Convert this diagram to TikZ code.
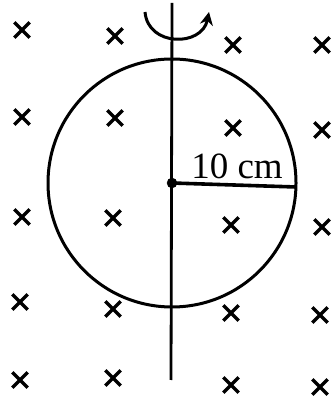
\documentclass[tikz,border=0pt]{standalone}
\usepackage{fontspec}
\setmainfont{Liberation Serif}
\usetikzlibrary{shapes.misc,arrows.meta,positioning}
\tikzset{
  field/.style={
    shape = cross out,
    draw,
    line width = 3.4pt,
    minimum size = 12pt,
    inner sep = 0pt
  },
  centre/.style={
    shape = circle,
    draw,
    fill,
    inner sep = 0pt,
    minimum size = 10pt
  },
  every picture/.style = {
    x = 1pt, y = 1pt,
    font = \fontsize{37}{40}\selectfont
  }
}

\begin{document}
\begin{tikzpicture}
        \useasboundingbox (0,0) rectangle (333,403);
        % magnetic field into the page
        \foreach \px/\py [count=\i] in {22/373,115/367,233/358,322/358,
                                       22/286,115/285,233/275,322/273,
                                       22/186,113/185,231/178,322/176,
                                       20/101,113/94,231/90,320/88,
                                       20/23,113/25,231/18,320/16}
          \node[field] (x\i) at (\px,\py) {};
        % ring and axis
        \node[centre] (O) at (172,220) {};
        \draw[line width=3pt] (O) circle (124);
        \coordinate (axtop) at (172,400);
        \coordinate (axbot) at (171,23);
        \draw[line width=2.8pt] (axtop)--(axbot);
        \coordinate (rim) at (296,216);
        \draw[line width=3.6pt] (O.center)--(rim)
          node[midway,above=1pt,xshift=3pt] (r) {10 cm};
        % sense of rotation
        \coordinate (rotA) at (145,391);
        \coordinate (rotB) at (209,391);
        \draw[line width=3pt,-{Stealth[length=13pt,width=13pt]}] (rotA) .. controls (148,356) and (202,356) .. (rotB);
    \end{tikzpicture}
\end{document}
